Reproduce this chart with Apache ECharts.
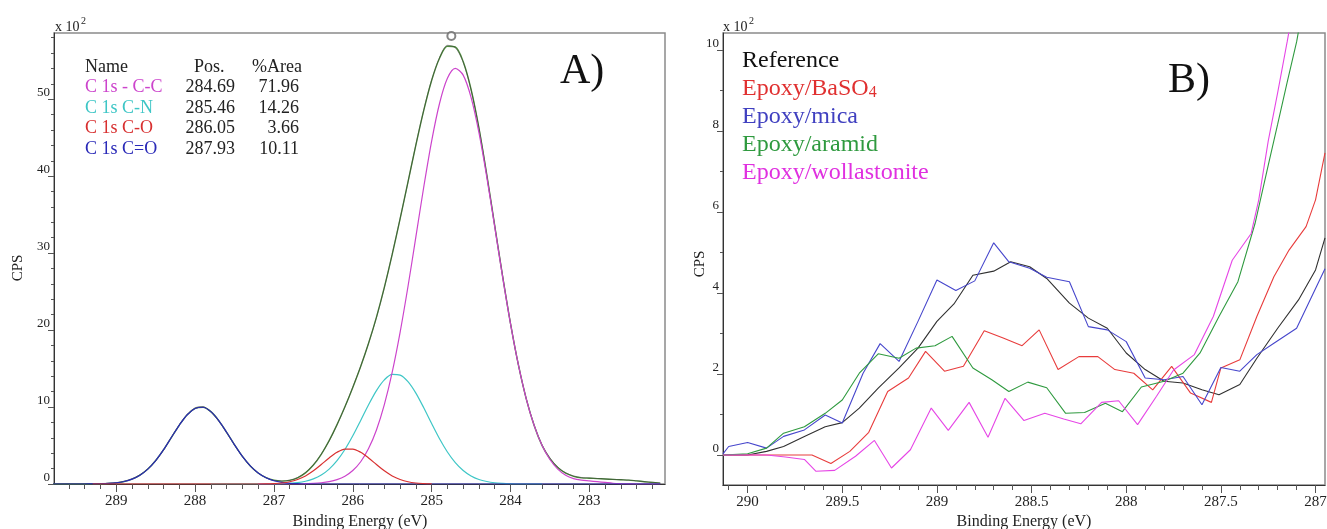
<!DOCTYPE html>
<html><head><meta charset="utf-8">
<script src="https://cdn.jsdelivr.net/npm/echarts@6/dist/echarts.min.js"></script>
<style>html,body{margin:0;padding:0;background:#fff}#c{width:1327px;height:529px}</style>
</head><body><div id="c"></div>
<script>
// ---------- Panel A data (x 10^2 CPS) ----------
const energyA = [289.8,289.7,289.6,289.5,289.4,289.3,289.2,289.1,289.0,288.9,288.8,288.7,288.6,288.5,288.4,288.3,288.2,288.1,288.0,287.9,287.8,287.7,287.6,287.5,287.4,287.3,287.2,287.1,287.0,286.9,286.8,286.7,286.6,286.5,286.4,286.3,286.2,286.1,286.0,285.9,285.8,285.7,285.6,285.5,285.4,285.3,285.2,285.1,285.0,284.9,284.8,284.7,284.6,284.5,284.4,284.3,284.2,284.1,284.0,283.9,283.8,283.7,283.6,283.5,283.4,283.3,283.2,283.1,283.0,282.9,282.8,282.7,282.6,282.5,282.4,282.3,282.2,282.1];
const envelopeA = [0,0,0,0,0,0.01,0.03,0.07,0.15,0.32,0.63,1.15,1.94,3.05,4.46,6.07,7.66,9.0,9.82,9.97,9.40,8.24,6.72,5.09,3.58,2.35,1.43,0.83,0.48,0.38,0.47,0.81,1.45,2.46,3.86,5.63,7.71,10.03,12.55,15.27,18.29,21.69,25.55,29.83,34.45,39.25,44.04,48.55,52.43,55.32,56.87,56.78,54.89,51.29,46.24,40.17,33.58,27.0,20.87,15.50,11.07,7.61,5.02,3.30,2.15,1.40,1.0,0.8,0.75,0.7,0.65,0.6,0.55,0.5,0.4,0.3,0.2,0.1];
const measuredA = [0.02,0.02,0.03,0.02,0.03,0.04,0.06,0.1,0.18,0.35,0.7,1.2,1.95,3.0,4.4,6.1,7.7,9.05,9.9,10.05,9.35,8.15,6.65,5.05,3.55,2.3,1.4,0.8,0.45,0.4,0.5,0.85,1.5,2.5,3.9,5.6,7.7,10.0,12.6,15.3,18.3,21.6,25.5,29.9,34.5,39.2,44.1,48.6,52.5,55.4,57.0,56.7,54.8,51.2,46.3,40.1,33.6,27.1,20.9,15.5,11.1,7.7,5.1,3.4,2.2,1.45,1.05,0.85,0.8,0.72,0.66,0.6,0.56,0.5,0.42,0.3,0.22,0.12];
const ccA = [null,null,null,null,null,null,null,null,null,null,null,null,null,null,null,null,null,null,null,null,null,null,null,null,null,null,0,0,0,0,0,0,0.04,0.08,0.16,0.30,0.56,1.01,1.75,2.89,4.60,7.02,10.31,14.54,19.71,25.66,32.10,38.59,44.56,49.44,52.71,54.0,53.13,50.24,45.65,39.85,33.42,26.92,20.84,15.50,11.07,7.61,5.02,3.18,1.94,1.13,0.70,0.50,0.40,0.30,0.20,0.10,0.05,0.02,0,0,0,0];
const cnA = [null,null,null,null,null,null,null,null,null,null,null,null,null,null,null,null,null,null,null,null,0,0,0,0,0,0,0,0,0,0.04,0.09,0.18,0.36,0.67,1.17,1.94,3.03,4.48,6.26,8.26,10.30,12.14,13.53,14.24,14.15,13.30,11.81,9.90,7.85,5.88,4.16,2.78,1.76,1.05,0.59,0.32,0.16,0.08,0.03,0,0,0,0,null,null,null,null,null,null,null,null,null,null,null,null,null,null,null];
const coA = [null,null,null,null,null,0,0,0,0,0,0,0,0,0,0,0,0,0,0,0,0,0,0,0,0,0,0,0.02,0.06,0.13,0.29,0.59,1.05,1.71,2.53,3.39,4.12,4.54,4.54,4.12,3.39,2.53,1.71,1.05,0.59,0.29,0.13,0.06,0.02,null,null,null,null,null,null,null,null,null,null,null,null,null,null,null,null,null,null,null,null,null,null,null,null,null,null,null,null,null];
const cdoA = [0,0,0,0,0,0.01,0.03,0.07,0.15,0.32,0.63,1.15,1.94,3.05,4.46,6.07,7.66,9.0,9.82,9.97,9.40,8.24,6.72,5.09,3.58,2.35,1.43,0.81,0.42,0.21,0.09,0.04,0,0,0,0,0,0,0,0,0,0,0,0,0,0,0,0,0,0,0,0,0,0,0,0,0,0,0,0,0,0,0,0,0,0,0,0,0,0,0,0,0,0,0,0,0,0];
const peakMarkA = [[284.75, 58.2]];
const ticksA_x = [289,288,287,286,285,284,283];
const minorA_x = [289.6,289.4,289.2,288.8,288.6,288.4,288.2,287.8,287.6,287.4,287.2,286.8,286.6,286.4,286.2,285.8,285.6,285.4,285.2,284.8,284.6,284.4,284.2,283.8,283.6,283.4,283.2,282.8,282.6,282.4,282.2];
const ticksA_y = [0,10,20,30,40,50];
const minorA_y = [2,4,6,8,12,14,16,18,22,24,26,28,32,34,36,38,42,44,46,48,52,54,56,58];
const compNames = ['C 1s - C-C','C 1s C-N','C 1s C-O','C 1s C=O'];
const compPos = ['284.69','285.46','286.05','287.93'];
const compArea = ['71.96','14.26','3.66','10.11'];

// ---------- Panel B data (x 10^2 CPS) ----------
const refB = [[290.13,0],[290.0,0],[289.90,0.09],[289.81,0.21],[289.70,0.46],[289.59,0.70],[289.50,0.80],[289.41,1.16],[289.31,1.65],[289.20,2.15],[289.10,2.64],[289.00,3.30],[288.91,3.73],[288.81,4.44],[288.70,4.54],[288.61,4.77],[288.51,4.65],[288.42,4.36],[288.30,3.75],[288.20,3.38],[288.10,3.13],[288.00,2.52],[287.90,2.11],[287.80,1.82],[287.70,1.78],[287.60,1.61],[287.51,1.49],[287.40,1.74],[287.31,2.39],[287.20,3.13],[287.09,3.83],[287.00,4.57],[286.95,5.36]];
const baso4B = [[290.13,0],[290.0,0],[289.90,0],[289.80,0],[289.66,0],[289.56,-0.21],[289.46,0.09],[289.36,0.56],[289.26,1.57],[289.15,1.90],[289.06,2.56],[288.96,2.07],[288.86,2.19],[288.75,3.07],[288.65,2.89],[288.55,2.70],[288.46,3.09],[288.36,2.11],[288.25,2.43],[288.15,2.43],[288.06,2.11],[287.96,2.02],[287.86,1.61],[287.76,2.19],[287.66,1.53],[287.55,1.30],[287.50,2.15],[287.40,2.35],[287.31,3.42],[287.22,4.40],[287.14,5.06],[287.05,5.64],[287.00,6.3],[286.95,7.46]];
const micaB = [[290.13,0.03],[290.10,0.21],[290.0,0.31],[289.90,0.17],[289.81,0.46],[289.70,0.62],[289.59,0.99],[289.50,0.79],[289.39,2.02],[289.30,2.75],[289.20,2.31],[289.10,3.3],[289.00,4.32],[288.90,4.06],[288.80,4.30],[288.70,5.24],[288.62,4.77],[288.51,4.61],[288.42,4.39],[288.30,4.28],[288.20,3.17],[288.10,3.09],[288.00,2.80],[287.90,1.90],[287.80,1.86],[287.70,1.94],[287.60,1.24],[287.50,2.16],[287.40,2.07],[287.31,2.48],[287.22,2.76],[287.10,3.13],[286.95,4.6]];
const aramidB = [[290.13,0],[290.0,0.03],[289.90,0.17],[289.81,0.54],[289.70,0.70],[289.59,1.03],[289.50,1.36],[289.41,2.02],[289.31,2.50],[289.20,2.39],[289.11,2.64],[289.01,2.70],[288.92,2.93],[288.81,2.15],[288.71,1.86],[288.62,1.57],[288.52,1.80],[288.42,1.66],[288.32,1.03],[288.22,1.05],[288.11,1.28],[288.02,1.07],[287.92,1.68],[287.80,1.82],[287.70,2.02],[287.61,2.52],[287.51,3.42],[287.41,4.28],[287.32,5.71],[287.25,7.15],[287.20,8.17],[287.15,9.2],[287.10,10.2],[287.05,11.5]];
const wollB = [[290.13,0],[290.0,0],[289.90,0],[289.80,-0.05],[289.70,-0.11],[289.64,-0.40],[289.54,-0.38],[289.43,-0.03],[289.33,0.36],[289.24,-0.32],[289.14,0.13],[289.03,1.16],[288.94,0.61],[288.83,1.30],[288.73,0.44],[288.64,1.40],[288.54,0.85],[288.43,1.03],[288.33,0.89],[288.24,0.77],[288.13,1.30],[288.04,1.34],[287.94,0.75],[287.84,1.45],[287.75,2.1],[287.64,2.48],[287.54,3.42],[287.44,4.81],[287.34,5.47],[287.30,6.3],[287.25,7.75],[287.20,8.95],[287.15,10.2],[287.10,11.5]];
const ticksB_x = [290,289.5,289,288.5,288,287.5,287];
const minorB_x = [290.1,289.9,289.8,289.7,289.6,289.4,289.3,289.2,289.1,288.9,288.8,288.7,288.6,288.4,288.3,288.2,288.1,287.9,287.8,287.7,287.6,287.4,287.3,287.2,287.1];
const ticksB_y = [0,2,4,6,8,10];
const minorB_y = [1,3,5,7,9];
const seriesNamesB = ['Reference','Epoxy/BaSO','Epoxy/mica','Epoxy/aramid','Epoxy/wollastonite'];

// ---------- styles ----------
const FF = '"Liberation Serif", "Times New Roman", serif';
const colA = {cc:'#cc44cc', cn:'#3ec6c6', co:'#d83030', cdo:'#2a2ab8', env:'#4f8a3f', meas:'#333333'};
const compColors = [colA.cc, colA.cn, colA.co, colA.cdo];
const colB = ['#303030','#e83c3c','#4646cc','#2f9a3f','#e646e6'];
const legendColB = ['#111111','#e03030','#4040c0','#2f9a3f','#e030e0'];

function zip(xs, ys){ return xs.map((x,i)=>[x, ys[i] === undefined ? null : ys[i]]); }

function xAxes(grid, min, max, major, minor){
  return [
    {gridIndex:grid, type:'value', min, max, inverse:true, position:'bottom',
     axisLine:{show:true, onZero:false, lineStyle:{color:'#333', width:1}},
     axisTick:{show:true, length:8, customValues:major, lineStyle:{color:'#555'}},
     axisLabel:{customValues:major, fontFamily:FF, fontSize:15, color:'#222', margin:10},
     splitLine:{show:false}},
    {gridIndex:grid, type:'value', min, max, inverse:true, position:'bottom',
     axisLine:{show:false, onZero:false}, axisTick:{show:true, length:5, customValues:minor, lineStyle:{color:'#555'}},
     axisLabel:{show:false}, splitLine:{show:false}}
  ];
}
function yAxes(grid, min, max, major, minor){
  return [
    {gridIndex:grid, type:'value', min, max, position:'left',
     axisLine:{show:true, onZero:false, lineStyle:{color:'#333', width:1}},
     axisTick:{show:true, length:6, customValues:major, lineStyle:{color:'#555'}},
     axisLabel:{customValues:major, fontFamily:FF, fontSize:13, color:'#222', margin:4, verticalAlign:'bottom'},
     splitLine:{show:false}},
    {gridIndex:grid, type:'value', min, max, position:'left',
     axisLine:{show:false, onZero:false}, axisTick:{show:true, length:3, customValues:minor, lineStyle:{color:'#555'}},
     axisLabel:{show:false}, splitLine:{show:false}}
  ];
}

const lineA = (name, data, color, w, z, op) => ({
  name, type:'line', xAxisIndex:0, yAxisIndex:0, data, symbol:'none', smooth:0.3,
  lineStyle:{color, width:w, opacity:op||1}, z, silent:true, connectNulls:false
});
const lineB = (name, data, color) => ({
  name, type:'line', xAxisIndex:2, yAxisIndex:2, data, symbol:'none', smooth:false,
  lineStyle:{color, width:1.1}, silent:true
});

const cv = document.createElement('canvas').getContext('2d');
cv.font = '24px ' + FF;
const wBaSO = cv.measureText(seriesNamesB[1]).width;

const graphics = [];
function txt(x, y, text, size, color, align, extra){
  graphics.push(Object.assign({type:'text', x, y, silent:true,
    style:{text, font: size + 'px ' + FF, fill: color, textAlign: align || 'left', textVerticalAlign:'middle',
           align: align || 'left', verticalAlign:'middle'}}, extra || {}));
}
txt(55, 27.5, 'x 10', 14, '#222');
txt(81, 21.5, '2', 10, '#222');
txt(85, 67.5, 'Name', 18, '#222');
txt(194, 67.5, 'Pos.', 18, '#222');
txt(252, 67.5, '%Area', 18, '#222');
const rowY = [87.5, 108, 128.5, 149];
compNames.forEach((n,i)=>{
  txt(85, rowY[i], n, 18, compColors[i]);
  txt(235, rowY[i], compPos[i], 18, '#222', 'right');
  txt(299, rowY[i], compArea[i], 18, '#222', 'right');
});
txt(560, 72, 'A)', 42, '#111');
txt(18, 268, 'CPS', 15, '#222', 'center', {rotation: Math.PI/2});
txt(360, 522, 'Binding Energy (eV)', 16, '#222', 'center');
txt(723, 27.5, 'x 10', 14, '#222');
txt(749, 21.5, '2', 10, '#222');
const rowYB = [61, 89, 117, 145, 173];
seriesNamesB.forEach((n,i)=> txt(742, rowYB[i], n, 24, legendColB[i]));
txt(742 + wBaSO, rowYB[1] + 4, '4', 16, legendColB[1]);
txt(1168, 81, 'B)', 42, '#111');
txt(700, 264, 'CPS', 15, '#222', 'center', {rotation: Math.PI/2});
txt(1024, 522, 'Binding Energy (eV)', 16, '#222', 'center');

const option = {
  animation:false,
  backgroundColor:'#fff',
  grid:[
    {left:54, top:33, width:611, height:451, show:true, borderColor:'#8a8a8a', borderWidth:1.5, containLabel:false, outerBoundsMode:'none'},
    {left:723, top:33, width:602, height:452, show:true, borderColor:'#8a8a8a', borderWidth:1.5, containLabel:false, outerBoundsMode:'none'}
  ],
  xAxis:[...xAxes(0, 282.04, 289.79, ticksA_x, minorA_x), ...xAxes(1, 286.95, 290.13, ticksB_x, minorB_x)],
  yAxis:[...yAxes(0, 0, 58.6, ticksA_y, minorA_y), ...yAxes(1, -0.74, 10.42, ticksB_y, minorB_y)],
  series:[
    lineA('Envelope', zip(energyA, envelopeA), colA.env, 1.4, 2),
    lineA('Measured', zip(energyA, measuredA), colA.meas, 1, 3, 0.45),
    lineA('C 1s C-N', zip(energyA, cnA), colA.cn, 1.2, 4),
    lineA('C 1s - C-C', zip(energyA, ccA), colA.cc, 1.2, 5),
    lineA('C 1s C=O', zip(energyA, cdoA), colA.cdo, 1.2, 6),
    lineA('C 1s C-O', zip(energyA, coA), colA.co, 1.2, 7),
    {type:'scatter', xAxisIndex:0, yAxisIndex:0, data:peakMarkA, symbol:'emptyCircle', symbolSize:8, clip:false,
     itemStyle:{color:'#666', borderColor:'#666', borderWidth:1.2}, z:10, silent:true},
    lineB('Reference', refB, colB[0]),
    lineB('Epoxy/BaSO4', baso4B, colB[1]),
    lineB('Epoxy/mica', micaB, colB[2]),
    lineB('Epoxy/aramid', aramidB, colB[3]),
    lineB('Epoxy/wollastonite', wollB, colB[4])
  ],
  graphic: graphics
};
const chart = echarts.init(document.getElementById('c'));
chart.setOption(option);
</script>
</body></html>
